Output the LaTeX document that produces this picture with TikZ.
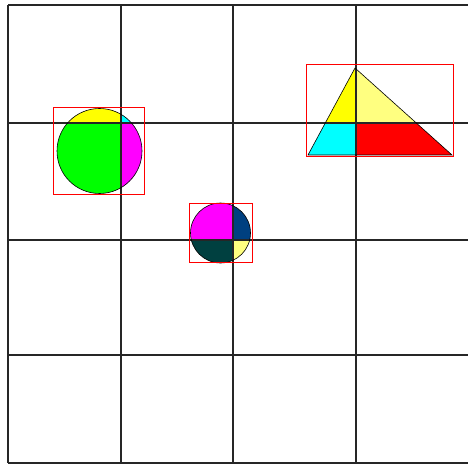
\documentclass[tikz,border=0pt]{standalone}
\begin{document}
\begin{tikzpicture}[x=1pt,y=-1pt,
  gridline/.style={line width=1.5pt,black!85},
  outline/.style={draw=black,line width=0.6pt},
  redbox/.style={draw=red,line width=1pt}]
\definecolor{ltyellow}{RGB}{255,255,128}
\definecolor{navyq}{RGB}{0,64,128}
\definecolor{tealq}{RGB}{0,64,64}
\definecolor{pcyan}{RGB}{0,255,255}
\definecolor{pmagenta}{RGB}{255,0,255}
\definecolor{pyellow}{RGB}{255,255,0}
\definecolor{pgreen}{RGB}{0,255,0}
\definecolor{pred}{RGB}{255,0,0}
\useasboundingbox (0,0) rectangle (468,465);
\fill[white] (0,0) rectangle (468,465);
% circle 1
\begin{scope}
\clip (99.5,151) circle (42.5);
\fill[pyellow] (50,100) rectangle (121,123);
\fill[pcyan] (121,100) rectangle (150,123);
\fill[pgreen] (50,123) rectangle (121,200);
\fill[pmagenta] (121,123) rectangle (150,200);
\end{scope}
% circle 2
\begin{scope}
\clip (220.5,233) circle (30);
\fill[pmagenta] (185,200) rectangle (233,240);
\fill[navyq] (233,200) rectangle (260,240);
\fill[tealq] (185,240) rectangle (233,270);
\fill[ltyellow] (233,240) rectangle (260,270);
\end{scope}
% triangle
\begin{scope}
\clip (355,68) -- (308,155) -- (452,155) -- cycle;
\fill[pyellow] (300,60) rectangle (356,123);
\fill[ltyellow] (356,60) rectangle (460,123);
\fill[pcyan] (300,123) rectangle (356,160);
\fill[pred] (356,123) rectangle (460,160);
\end{scope}
% grid
\draw[gridline] (8,5) -- (468,5);
\draw[gridline] (8,123) -- (468,123);
\draw[gridline] (8,240) -- (468,240);
\draw[gridline] (8,355) -- (468,355);
\draw[gridline] (8,463) -- (468,463);
\draw[gridline] (8,5) -- (8,463);
\draw[gridline] (121,5) -- (121,463);
\draw[gridline] (233,5) -- (233,463);
\draw[gridline] (356,5) -- (356,463);
% outlines
\draw[outline] (99.5,151) circle (42.5);
\draw[outline] (220.5,233) circle (30);
\draw[outline] (355,68) -- (308,155) -- (452,155) -- cycle;
% bounding boxes
\draw[redbox] (53.5,107.5) rectangle (144.5,194);
\draw[redbox] (189.5,203.5) rectangle (252,262);
\draw[redbox] (306,64.5) rectangle (453,157);
\end{tikzpicture}
\end{document}
